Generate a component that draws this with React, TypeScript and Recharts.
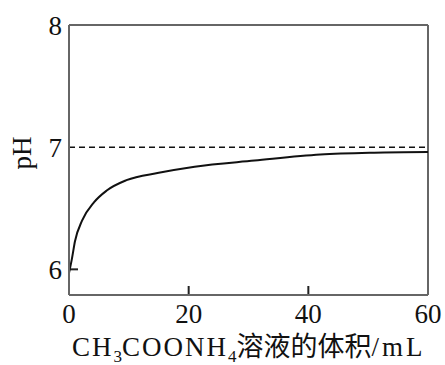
import { LineChart, Line, XAxis, YAxis, ReferenceLine, Label } from 'recharts'

// volume of CH3COONH4 solution added (mL) and the resulting pH
const volumeMl = [0, 0.5, 1, 2.2, 4.2, 6.3, 9.6, 15, 21, 31, 42, 51, 60]
const phValues = [5.97, 6.09, 6.23, 6.4, 6.55, 6.645, 6.73, 6.79, 6.84, 6.89, 6.94, 6.955, 6.96]

const xTicks = [0, 20, 40, 60]
const yTicks = [6, 7, 8]
const neutralPh = 7

const data = volumeMl.map((v, i) => ({ v, ph: phValues[i] }))

const font = '"Liberation Serif", "Times New Roman", "Noto Sans CJK SC", serif'
const axisColor = '#666'
const inkColor = '#111'
const tickLen = 9

// short inward tick marks, drawn as reference lines that only keep their first few pixels
function XTickMark(props: any) {
    const { x1, y1, y2 } = props
    const bottom = Math.max(y1, y2)
    return <line x1={x1} x2={x1} y1={bottom} y2={bottom - tickLen} stroke="#222" strokeWidth={2} />
}

function YTickMark(props: any) {
    const { x1, x2, y1 } = props
    const left = Math.min(x1, x2)
    return <line x1={left} x2={left + tickLen} y1={y1} y2={y1} stroke="#222" strokeWidth={2} />
}

function XLabel(props: any) {
    const vb = props.viewBox || { x: 69, y: 295 }
    return (
        <text x={vb.x + 3} y={vb.y + 61} fontSize={27} fontFamily={font} fill={inkColor}>
            <tspan letterSpacing={2}>CH</tspan>
            <tspan fontSize={17} dy={6}>3</tspan>
            <tspan dy={-6} letterSpacing={2}>COONH</tspan>
            <tspan fontSize={17} dy={6}>4</tspan>
            <tspan dy={-6}>溶液的体积</tspan>
            <tspan letterSpacing={3}>/mL</tspan>
        </text>
    )
}

const tickStyle = { fontSize: 27, fontFamily: font, fill: inkColor }

export default function App() {
    const innerX = xTicks.slice(1, -1)
    const innerY = yTicks.filter((t) => t !== neutralPh).slice(0, -1)
    return (
        <div style={{ position: 'absolute', left: 0, top: 0, background: '#fff' }}>
            <LineChart
                width={445}
                height={365}
                data={data}
                margin={{ top: 25, right: 17, bottom: 0, left: 0 }}
            >
                <XAxis
                    dataKey="v"
                    type="number"
                    domain={[0, 60]}
                    ticks={xTicks}
                    height={70}
                    tick={tickStyle}
                    tickSize={0}
                    tickMargin={9}
                    tickLine={false}
                    axisLine={{ stroke: axisColor, strokeWidth: 2 }}
                >
                    <Label content={<XLabel />} />
                </XAxis>
                <YAxis
                    type="number"
                    domain={[5.79, 8]}
                    ticks={yTicks}
                    width={69}
                    tick={tickStyle}
                    tickSize={0}
                    tickMargin={7}
                    tickLine={false}
                    axisLine={{ stroke: axisColor, strokeWidth: 2 }}
                >
                    <Label
                        value="pH"
                        angle={-90}
                        position="insideLeft"
                        offset={21}
                        dy={-7}
                        style={{ fontSize: 27, fontFamily: font, fill: inkColor, textAnchor: 'middle' }}
                    />
                </YAxis>
                <ReferenceLine y={8} stroke={axisColor} strokeWidth={2} />
                <ReferenceLine x={60} stroke={axisColor} strokeWidth={2} />
                <ReferenceLine y={neutralPh} stroke={inkColor} strokeWidth={1.5} strokeDasharray="6 4" />
                {innerX.map((t) => (
                    <ReferenceLine key={'x' + t} x={t} stroke="#222" shape={<XTickMark />} />
                ))}
                {innerY.map((t) => (
                    <ReferenceLine key={'y' + t} y={t} stroke="#222" shape={<YTickMark />} />
                ))}
                <Line
                    type="monotone"
                    dataKey="ph"
                    stroke={inkColor}
                    strokeWidth={2}
                    dot={false}
                    isAnimationActive={false}
                />
            </LineChart>
        </div>
    )
}
